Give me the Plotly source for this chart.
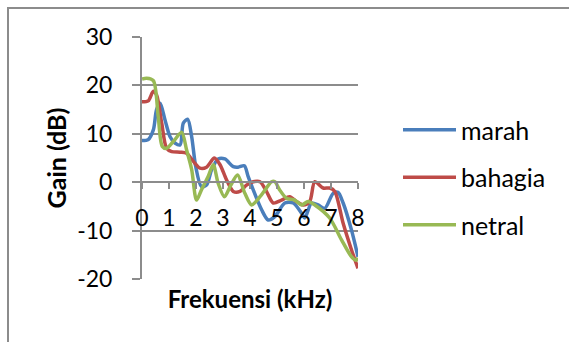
import plotly.graph_objects as go

# Frequency (kHz) and gain (dB) for each emotion class
marah_khz = [0.0, 0.23, 0.42, 0.54, 0.67, 0.85, 1.04, 1.22, 1.41, 1.53, 1.69, 1.84, 1.99, 2.2, 2.39,
             2.58, 2.82, 3.07, 3.38, 3.56, 3.79, 3.93, 4.12, 4.43, 4.67, 4.92, 5.29, 5.6, 5.91, 6.03,
             6.28, 6.52, 6.77, 7.08, 7.26, 7.45, 7.76, 8.0]
marah_db = [8.6, 8.8, 10.8, 15.0, 16.3, 12.9, 9.4, 8.1, 7.7, 12.2, 13.0, 9.4, 3.2, -0.9, -0.6,
            2.6, 4.8, 4.8, 3.2, 3.1, 3.4, 1.2, -1.6, -5.7, -7.8, -7.1, -4.3, -4.3, -6.4, -7.4,
            -4.3, -4.7, -5.4, -2.3, -2.1, -4.3, -9.9, -15.4]

bahagia_khz = [0.0, 0.23, 0.42, 0.54, 0.73, 0.91, 1.1, 1.41, 1.65, 1.9, 2.15, 2.39, 2.68, 2.89,
               3.13, 3.38, 3.63, 3.87, 4.12, 4.37, 4.61, 4.86, 5.17, 5.47, 5.72, 5.97, 6.21, 6.4,
               6.71, 6.95, 7.14, 7.45, 7.76, 8.0]
bahagia_db = [16.6, 16.8, 18.8, 18.0, 12.2, 7.0, 6.3, 6.2, 6.0, 4.3, 2.9, 3.1, 5.0, 3.6,
              0.5, -1.9, -1.9, -0.6, 0.1, 0.1, -1.9, -4.3, -3.7, -3.0, -4.0, -4.7, -4.0, 0.1,
              -1.2, -1.2, -1.9, -8.5, -14.0, -17.8]

netral_khz = [0.0, 0.17, 0.42, 0.6, 0.75, 0.91, 1.16, 1.47, 1.65, 1.84, 2.02, 2.2, 2.45, 2.64,
              2.82, 3.05, 3.29, 3.54, 3.81, 4.06, 4.37, 4.61, 4.8, 4.92, 5.1, 5.35, 5.66, 5.91,
              6.15, 6.4, 6.95, 7.39, 7.76, 7.94, 8.0]
netral_db = [21.3, 21.5, 21.0, 13.6, 7.4, 7.0, 8.4, 10.3, 6.7, 2.6, -3.7, -1.6, 1.2, 3.6,
             -0.2, -3.0, -0.6, 1.5, -2.3, -4.7, -3.0, -1.2, 0.1, 0.1, -1.6, -3.3, -3.7, -4.7,
             -4.0, -4.7, -7.4, -11.9, -15.4, -16.1, -15.6]

x_ticks = [0, 1, 2, 3, 4, 5, 6, 7, 8]
y_ticks = [-20, -10, 0, 10, 20, 30]

series = [
    ("marah", marah_khz, marah_db, "#4A7EBB"),
    ("bahagia", bahagia_khz, bahagia_db, "#BE4B48"),
    ("netral", netral_khz, netral_db, "#98B954"),
]

GRID = "#8C8C8C"
FONT = "Lato"
TICK_SIZE = 23
LEGEND_SIZE = 25
TITLE_SIZE = 24

fig = go.Figure()
for name, xs, ys, color in series:
    fig.add_trace(go.Scatter(
        x=xs, y=ys, name=name, mode="lines", legendgroup=name,
        line=dict(color=color, width=3.5, shape="spline", smoothing=0.8),
    ))

W, H = 569, 342
L, R, T, B = 142, 211, 37, 63
plot_w = W - L - R
plot_h = H - T - B

fig.update_layout(
    width=W, height=H,
    margin=dict(l=L, r=R, t=T, b=B, autoexpand=False),
    paper_bgcolor="white", plot_bgcolor="white",
    font=dict(family=FONT, size=TICK_SIZE, color="black"),
    showlegend=True,
    legend=dict(
        x=(398 - L) / plot_w, xanchor="left",
        y=(T + plot_h - 107) / plot_h, yanchor="top",
        font=dict(family=FONT, size=LEGEND_SIZE, color="black"),
        itemwidth=53, tracegroupgap=12,
        bgcolor="rgba(0,0,0,0)",
    ),
    xaxis=dict(
        range=[0, 8], tickvals=x_ticks, ticktext=[str(v) for v in x_ticks],
        anchor="free", position=0.4,
        showline=True, linecolor=GRID, linewidth=2,
        ticks="outside", ticklen=6, tickcolor=GRID, tickwidth=2,
        ticklabelstandoff=9,
        showgrid=False, zeroline=False,
        tickfont=dict(family=FONT, size=TICK_SIZE),
        title=dict(text="<b>Frekuensi (kHz)</b>", standoff=60,
                   font=dict(family=FONT, size=TITLE_SIZE)),
    ),
    yaxis=dict(
        range=[-20, 30], tickvals=y_ticks, ticktext=[str(v) for v in y_ticks],
        showline=True, linecolor=GRID, linewidth=2,
        ticks="outside", ticklen=8, tickcolor=GRID, tickwidth=2,
        ticklabelstandoff=15,
        showgrid=True, gridcolor=GRID, gridwidth=2,
        zeroline=False,
        tickfont=dict(family=FONT, size=TICK_SIZE),
        title=dict(text="<b>Gain (dB)</b>", standoff=3,
                   font=dict(family=FONT, size=TITLE_SIZE + 1)),
    ),
)

# chart area border running off the right and bottom edges
fig.add_shape(
    type="rect", xref="paper", yref="paper",
    x0=(8 - L) / plot_w, x1=(W + 20 - L) / plot_w,
    y0=(T + plot_h - (H + 20)) / plot_h, y1=(T + plot_h - 8) / plot_h,
    line=dict(color=GRID, width=2), fillcolor="rgba(0,0,0,0)", layer="below",
)

fig.write_html("out.html")
